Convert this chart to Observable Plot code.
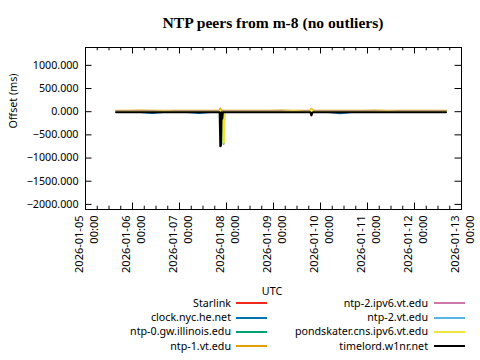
<!DOCTYPE html>
<html><head><meta charset="utf-8">
<script src="https://cdn.jsdelivr.net/npm/d3@7"></script>
<script src="https://cdn.jsdelivr.net/npm/@observablehq/plot@0.6"></script>
<style>
body{margin:0;background:#fff;}
#wrap{position:relative;width:480px;height:360px;overflow:hidden;font-family:"Noto Sans",sans-serif;color:#000;}
#wrap svg{position:absolute;left:0;top:0;}
#title{position:absolute;left:85px;width:376px;top:14px;text-align:center;font-family:"Liberation Serif",serif;font-weight:bold;font-size:15.6px;line-height:18px;white-space:nowrap;}
.lg{position:absolute;font-size:10.7px;line-height:14px;white-space:nowrap;}
.ls{position:absolute;height:2px;}
</style></head><body><div id="wrap"><div id="title">NTP peers from m-8 (no outliers)</div></div>
<script>
const titleText = "NTP peers from m-8 (no outliers)";
const yLabel = "Offset (ms)";
const legendTitle = "UTC";
const names = ["Starlink","clock.nyc.he.net","ntp-0.gw.illinois.edu","ntp-1.vt.edu","ntp-2.ipv6.vt.edu","ntp-2.vt.edu","pondskater.cns.ipv6.vt.edu","timelord.w1nr.net"];
const colors = ["#f0281e","#0072b2","#009e73","#e69f00","#cc79a7","#56b4e9","#f0e442","#000000"];
const yTicks = [-2000,-1500,-1000,-500,0,500,1000];
const xTicks = ["2026-01-05","2026-01-06","2026-01-07","2026-01-08","2026-01-09","2026-01-10","2026-01-11","2026-01-12","2026-01-13"];
const times = ["2026-01-05T15:40","2026-01-05T22:00","2026-01-06T04:00","2026-01-06T10:00","2026-01-06T16:00","2026-01-06T22:00","2026-01-07T04:00","2026-01-07T10:00","2026-01-07T16:00","2026-01-07T20:30","2026-01-07T20:50","2026-01-07T21:10","2026-01-07T21:30","2026-01-07T21:50","2026-01-07T22:10","2026-01-07T22:30","2026-01-07T22:50","2026-01-07T23:10","2026-01-08T04:00","2026-01-08T10:00","2026-01-08T16:00","2026-01-08T22:00","2026-01-09T04:00","2026-01-09T10:00","2026-01-09T16:00","2026-01-09T18:50","2026-01-09T19:20","2026-01-09T19:50","2026-01-09T20:20","2026-01-09T23:00","2026-01-10T04:00","2026-01-10T10:00","2026-01-10T16:00","2026-01-10T22:00","2026-01-11T04:00","2026-01-11T10:00","2026-01-11T16:00","2026-01-11T22:00","2026-01-12T04:00","2026-01-12T10:00","2026-01-12T16:05"];
const starlink = [4,6,2,5,3,8,4,2,5,3,4,6,5,3,4,2,5,6,3,4,2,6,5,3,4,5,-70,25,4,3,5,2,6,4,3,5,2,4,6,3,4];
const clockNyc = [-4,-6,-5,-28,-5,-7,-4,-30,-6,-5,-4,-6,-5,-7,-5,-4,-6,-5,-4,-6,-5,-7,-4,-5,-6,-5,-10,-6,-5,-4,-6,-32,-5,-6,-4,-5,-7,-5,-6,-4,-5];
const ntp0 = [1,0,2,-1,0,1,-2,0,1,0,1,0,-1,1,0,-690,-20,0,1,0,-1,2,0,1,0,1,-3,2,0,1,-1,0,2,0,-1,1,0,2,-1,0,1];
const ntp1 = [22,20,24,19,21,23,20,22,18,24,70,30,22,20,21,25,22,20,23,21,19,22,24,20,21,25,65,45,22,20,23,21,19,22,24,20,21,23,20,22,21];
const ntp2v6 = [3,4,2,5,3,2,4,3,5,2,3,4,3,2,4,3,5,3,2,4,3,5,2,3,4,3,-20,10,3,4,2,3,5,3,4,2,3,4,3,2,4];
const ntp2 = [-2,-1,-3,-2,-1,-2,-3,-1,-2,-2,-1,-3,-2,-1,-2,-3,-1,-2,-2,-1,-3,-2,-1,-2,-3,-1,-15,5,-2,-1,-3,-2,-1,-2,-3,-1,-2,-2,-1,-3,-2];
const pondskater = [-6,-5,-8,-5,6,-7,-6,-5,-8,-5,30,-6,-5,-7,-6,-670,-655,-6,-5,-4,-7,-6,-5,8,-6,-7,50,15,-6,-5,-7,-4,-6,-5,-8,5,-6,-5,-7,-4,-6];
const timelord = [-12,-10,-14,-11,-13,-12,-10,-14,-12,-12,-745,-735,-12,-150,-12,-11,-13,-12,-10,-14,-11,-13,-12,-10,-14,-12,-80,-20,-12,-11,-13,-12,-10,-14,-12,-11,-13,-12,-10,-14,-12];
const seriesValues = [starlink, clockNyc, ntp0, ntp1, ntp2v6, ntp2, pondskater, timelord];

const parseT = s => new Date(s + (s.length > 10 ? ":00Z" : "T00:00:00Z"));
const data = names.flatMap((name, i) => times.map((t, j) => ({name, t: parseT(t), v: seriesValues[i][j]})));
const xTickDates = xTicks.map(parseT);
const xMinor = d3.utcHour.every(6).range(xTickDates[0], xTickDates[xTickDates.length - 1]).filter(d => d.getUTCHours() !== 0);

const W = 480, H = 360, ML = 85, MR = 19, MT = 47, MB = 151;
const FW = W - ML - MR, FH = H - MT - MB;

const chart = Plot.plot({
  width: W, height: H,
  marginLeft: ML, marginRight: MR, marginTop: MT, marginBottom: MB,
  style: {fontFamily: "Noto Sans", fontSize: "10.7px", background: "white", color: "black"},
  x: {type: "utc", domain: [xTickDates[0], xTickDates[xTickDates.length - 1]], axis: null},
  y: {domain: [-2110, 1385], axis: null},
  color: {domain: names, range: colors},
  marks: [
    Plot.line(data, {x: "t", y: "v", z: "name", stroke: "name", strokeWidth: 2, clip: true}),
    Plot.frame({stroke: "black"}),
    Plot.tickY(yTicks, {y: d => d, insetRight: FW - 6.5, stroke: "black"}),
    Plot.tickY(yTicks, {y: d => d, insetLeft: FW - 6.5, stroke: "black"}),
    Plot.tickX(xTickDates, {x: d => d, insetTop: FH - 6.5, stroke: "black"}),
    Plot.tickX(xTickDates, {x: d => d, insetBottom: FH - 6.5, stroke: "black"}),
    Plot.tickX(xMinor, {x: d => d, insetTop: FH - 3.3, stroke: "black"}),
    Plot.tickX(xMinor, {x: d => d, insetBottom: FH - 3.3, stroke: "black"}),
    Plot.axisY({ticks: yTicks, tickFormat: d3.format(".3f"), tickSize: 0, tickPadding: 7, label: null}),
    Plot.text(xTicks, {x: d => parseT(d), text: d => d + "\n00:00", frameAnchor: "bottom", rotate: -90, textAnchor: "end", lineAnchor: "middle", lineHeight: 1.4, dy: 6, fontSize: 11}),
    Plot.text([yLabel], {frameAnchor: "left", rotate: -90, dx: -72, text: d => d})
  ]
});
const wrap = document.getElementById("wrap");
wrap.insertBefore(chart, wrap.firstChild);

// legend
const lt = document.createElement("div");
lt.className = "lg";
lt.style.left = "0px"; lt.style.width = "544px"; lt.style.textAlign = "center"; lt.style.top = "284px";
lt.textContent = legendTitle;
wrap.appendChild(lt);
names.forEach((name, i) => {
  const col = i < 4 ? 0 : 1, row = i % 4;
  const textRight = col === 0 ? 231 : 428;
  const lineLeft = col === 0 ? 236 : 433.5;
  const cy = 303.3 + row * 14.25;
  const t = document.createElement("div");
  t.className = "lg";
  t.style.right = (480 - textRight) + "px";
  t.style.top = (cy - 7.5) + "px";
  t.textContent = name;
  wrap.appendChild(t);
  const s = document.createElement("div");
  s.className = "ls";
  s.style.left = lineLeft + "px"; s.style.width = "31px";
  s.style.top = (cy - 1) + "px";
  s.style.background = colors[i];
  wrap.appendChild(s);
});
</script>
</body></html>
